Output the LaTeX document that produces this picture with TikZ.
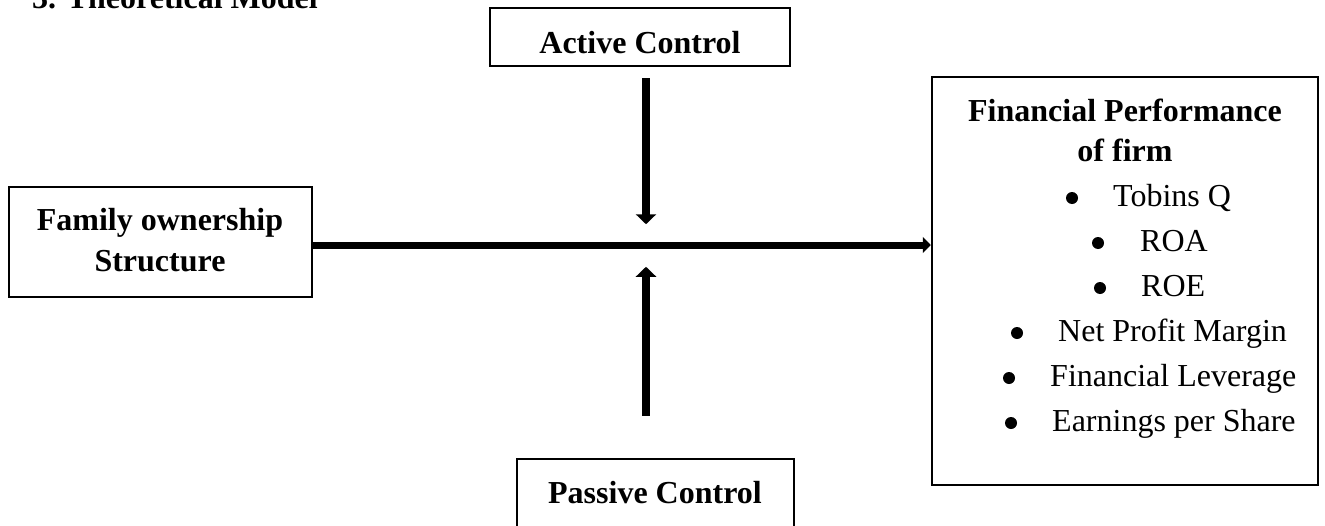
\documentclass[tikz,border=0pt]{standalone}
\usepackage{fontspec}
\setmainfont{Liberation Serif}
\usetikzlibrary{arrows.meta}
\begin{document}
\begin{tikzpicture}[x=1pt,y=-1pt,
  boxst/.style={draw, line width=2.5pt, inner sep=0pt},
  boldtxt/.style={font=\fontsize{32}{38}\selectfont\bfseries, inner sep=0pt, anchor=base},
  regtxt/.style={font=\fontsize{32}{38}\selectfont, inner sep=0pt, anchor=base west},
  bul/.style={circle, fill, minimum size=12pt, inner sep=0pt},
  vertarrow/.style={line width=8pt, -{Triangle[width=20pt,length=10pt]}},
  mainarrow/.style={line width=7pt, -{Triangle[width=16pt,length=8pt]}}]
\useasboundingbox (0,0) rectangle (1325,525);
\clip (0,0) rectangle (1325,525);

% title (cut at top)
\node[boldtxt, anchor=base west] (title) at (32,8) {3. Theoretical Model};

% boxes
\node[boxst, minimum width=300pt, minimum height=58pt] (act) at (640,37) {};
\node[boxst, minimum width=303pt, minimum height=110pt] (fam) at (160.5,242) {};
\node[boxst, minimum width=386pt, minimum height=408pt] (fin) at (1125,281) {};
\node[boxst, minimum width=277pt, minimum height=81pt] (pas) at (655.5,499.5) {};

% box texts
\node[boldtxt] (acttxt) at (640,53) {Active Control};
\node[boldtxt] (famtxt1) at (160,230) {Family ownership};
\node[boldtxt] (famtxt2) at (160,271) {Structure};
\node[boldtxt] (pastxt) at (655,503) {Passive Control};
\node[boldtxt] (fintxt1) at (1125,121) {Financial Performance};
\node[boldtxt] (fintxt2) at (1125,161) {of firm};

% bullet list
\node[bul] (b1) at (1072,198) {};
\node[regtxt] (l1) at (1113,206.5) {Tobins Q};
\node[bul] (b2) at (1098,243) {};
\node[regtxt] (l2) at (1140,251.5) {ROA};
\node[bul] (b3) at (1100,288) {};
\node[regtxt] (l3) at (1141,296.5) {ROE};
\node[bul] (b4) at (1017,333) {};
\node[regtxt] (l4) at (1058,341.5) {Net Profit Margin};
\node[bul] (b5) at (1009,378) {};
\node[regtxt] (l5) at (1050,386.5) {Financial Leverage};
\node[bul] (b6) at (1011,423) {};
\node[regtxt] (l6) at (1052,431.5) {Earnings per Share};

% connectors
\draw[mainarrow] ([yshift=-3pt]fam.east) -- ([yshift=-3pt]fam.east -| fin.west);
\draw[vertarrow] ([xshift=6pt,yshift=-11pt]act.south) -- ([xshift=6pt,yshift=-157pt]act.south);
\draw[vertarrow] ([xshift=-9.5pt,yshift=42pt]pas.north) -- ([xshift=-9.5pt,yshift=191pt]pas.north);
\end{tikzpicture}
\end{document}
